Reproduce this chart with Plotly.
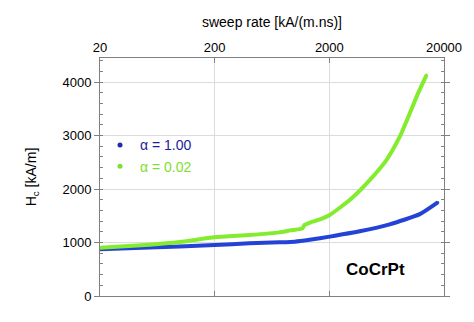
import plotly.graph_objects as go

# sweep rate [kA/(m.ns)] and coercive field H_c [kA/m]
rate_a100 = [20, 54, 99, 200, 402, 736, 996, 1346, 2013, 3681, 6725, 12300, 17650]
hc_a100 = [873, 905, 925, 953, 985, 1003, 1015, 1050, 1110, 1210, 1340, 1530, 1750]

rate_a002 = [20, 54, 99, 200, 402, 736, 900, 1101, 1169, 1218, 1346, 1700, 2013, 3009, 4499, 6293, 8225, 10050, 11870, 14070]
hc_a002 = [903, 960, 1010, 1097, 1140, 1190, 1225, 1250, 1268, 1330, 1370, 1440, 1514, 1794, 2168, 2542, 2978, 3414, 3788, 4131]

x_ticks = [20, 200, 2000, 20000]
y_ticks = [0, 1000, 2000, 3000, 4000]

blue = "#2443d6"
green = "#84ec2e"

fig = go.Figure()
fig.add_trace(go.Scatter(
    x=rate_a100, y=hc_a100, mode="lines+markers", showlegend=False,
    line=dict(color=blue, width=4, shape="spline", smoothing=0.5),
    marker=dict(color=blue, size=3),
))
fig.add_trace(go.Scatter(
    x=rate_a002, y=hc_a002, mode="lines+markers", showlegend=False,
    line=dict(color=green, width=4, shape="spline", smoothing=0.5),
    marker=dict(color=green, size=3),
))
# legend entries (dots only, as in the reference)
fig.add_trace(go.Scatter(
    x=[None], y=[None], mode="markers", marker=dict(color="#1c2ca8", size=5),
    name="<span style='color:#1c1c9c'>α = 1.00</span>",
))
fig.add_trace(go.Scatter(
    x=[None], y=[None], mode="markers", marker=dict(color="#7ee02c", size=5),
    name="<span style='color:#7ee02c'>α = 0.02</span>",
))

fig.update_layout(
    width=474, height=322,
    margin=dict(l=100, r=30, t=58, b=26),
    paper_bgcolor="white", plot_bgcolor="white",
    font=dict(family="Liberation Sans, Arial, sans-serif", size=13, color="black"),
    showlegend=True,
    legend=dict(x=0.0, y=0.7, xanchor="left", yanchor="top",
                bgcolor="rgba(0,0,0,0)", font=dict(size=14),
                itemwidth=30, tracegroupgap=0),
    annotations=[dict(text="<b>CoCrPt</b>", x=0.80, y=0.11, xref="paper", yref="paper",
                      xanchor="center", yanchor="middle",
                      showarrow=False, font=dict(size=17, color="black"))],
)
fig.update_xaxes(
    type="log", side="top", range=[1.30103, 4.30103],
    tickvals=x_ticks, ticktext=[str(v) for v in x_ticks],
    ticks="inside", ticklen=5, tickcolor="#808080",
    showgrid=True, gridcolor="#dcdcdc", gridwidth=1,
    showline=True, linecolor="#808080", linewidth=1, mirror="ticks",
    title=dict(text="sweep rate [kA/(m.ns)]", font=dict(size=14), standoff=8),
    zeroline=False,
)
fig.update_yaxes(
    range=[0, 4450], tickvals=y_ticks,
    ticks="outside", ticklen=5, tickcolor="#808080",
    minor=dict(dtick=200, ticks="inside", ticklen=3, tickcolor="#808080", showgrid=False),
    showgrid=True, gridcolor="#dcdcdc", gridwidth=1,
    showline=True, linecolor="#808080", linewidth=1, mirror="ticks",
    title=dict(text="H<sub>c</sub> [kA/m]", font=dict(size=14), standoff=22),
    zeroline=False,
)

fig.write_html("out.html")
